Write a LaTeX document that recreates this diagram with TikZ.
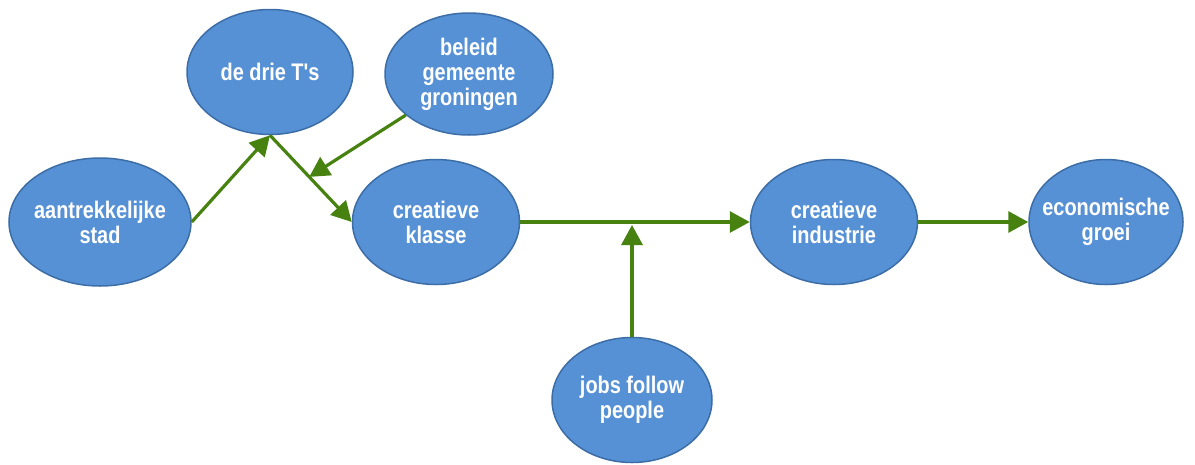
\documentclass[tikz,border=0pt]{standalone}
\usepackage{fontspec}
\usepackage{tikz}
\usetikzlibrary{shapes.geometric,arrows.meta}
\newfontfamily\bubblefont{Liberation Sans}[FakeStretch=0.83]
\definecolor{bubblefill}{HTML}{5691D6}
\definecolor{bubbleline}{HTML}{3C6DA6}
\definecolor{arrowgreen}{HTML}{478210}
\tikzstyle{mybubble} = [ellipse, draw=bubbleline, fill=bubblefill, line width=1.5pt, text=white, align=center, inner xsep=-25pt, inner ysep=-15pt, font=\bubblefont\bfseries\fontsize{24}{25}\selectfont]
\tikzstyle{myarrow} = [draw=arrowgreen, line width=3.2pt, -{Triangle[length=20pt,width=21pt]}]

\begin{document}
\begin{tikzpicture}[x=1pt,y=-1pt]
\useasboundingbox (0,0) rectangle (1195,464);
\node[mybubble, minimum width=182pt, minimum height=128pt] (stad) at (100,222) {aantrekkelijke\\stad};
\node[mybubble, minimum width=166pt, minimum height=125pt] (drieT) at (270,72) {de drie T's};
\node[mybubble, minimum width=168pt, minimum height=122pt] (beleid) at (469,74) {beleid\\gemeente\\groningen};
\node[mybubble, minimum width=167pt, minimum height=125pt] (klasse) at (436,222) {creatieve\\klasse};
\node[mybubble, minimum width=167pt, minimum height=125pt] (industrie) at (834,222) {creatieve\\industrie};
\node[mybubble, minimum width=154pt, minimum height=125pt] (groei) at (1106,222) {economische\\groei};
\node[mybubble, minimum width=160pt, minimum height=125pt] (jobs) at (632,400) {jobs follow\\people};
\coordinate (join) at (jobs.north |- klasse.east);

\draw[myarrow] (stad.east) -- (drieT.south);
\draw[myarrow] (drieT.south) -- coordinate[pos=0.48] (drieklasse) (klasse.west);
\draw[myarrow] (beleid.213) -- (drieklasse);
\draw[myarrow] (klasse.east) -- (industrie.west);
\draw[myarrow, shorten >=3pt] (jobs.north) -- (join);
\draw[myarrow] (industrie.east) -- (groei.west);
\end{tikzpicture}
\end{document}
